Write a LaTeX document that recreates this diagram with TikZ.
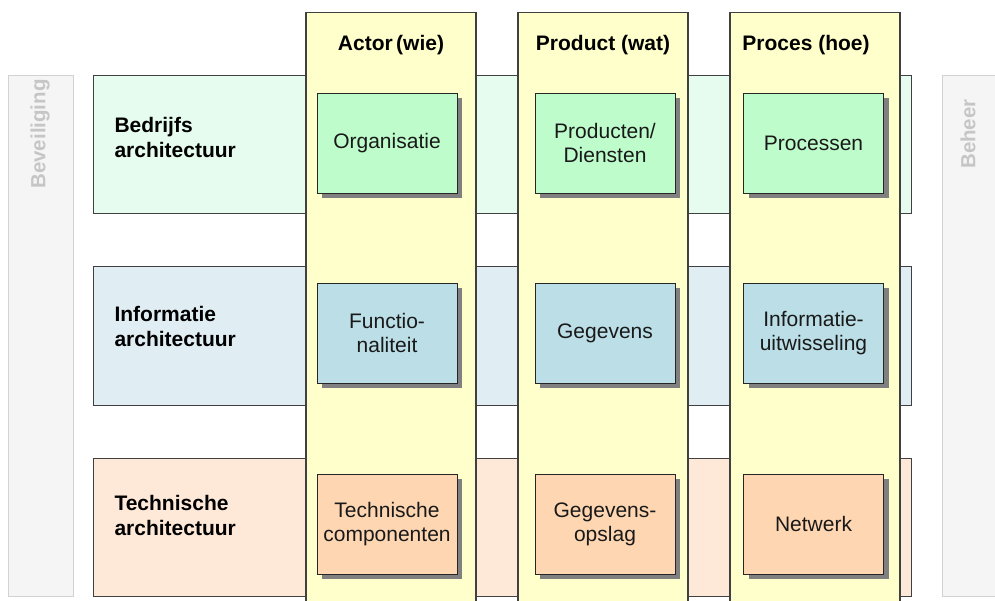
\documentclass[tikz,border=0pt]{standalone}
\usepackage{fontspec}
\setmainfont{Liberation Sans}
\usetikzlibrary{shadows}
\definecolor{bordc}{HTML}{404040}
\definecolor{colY}{HTML}{FFFFCC}
\definecolor{bandG}{HTML}{E6FCEE}
\definecolor{bandB}{HTML}{E0EEF4}
\definecolor{bandO}{HTML}{FEE9D8}
\definecolor{cellG}{HTML}{BEFCCC}
\definecolor{cellB}{HTML}{BBDEE7}
\definecolor{cellO}{HTML}{FED7B2}
\definecolor{sideF}{HTML}{F5F5F5}
\definecolor{sideD}{HTML}{D2D2D2}
\definecolor{sideT}{HTML}{C6C6C6}
\begin{document}
\begin{tikzpicture}[x=1pt,y=-1pt,
  band/.style={draw=bordc, line width=1pt},
  col/.style={draw=bordc, fill=colY, line width=1.2pt},
  side/.style={draw=sideD, fill=sideF, line width=1pt},
  sidetext/.style={text=sideT, font=\bfseries\fontsize{20.5}{24}\selectfont, rotate=90},
  head/.style={font=\bfseries\fontsize{21}{24}\selectfont},
  rowlab/.style={anchor=west, align=left, font=\bfseries\fontsize{21}{25}\selectfont},
  cell/.style={draw=black!85, line width=0.8pt, minimum width=140pt, minimum height=100pt,
    align=center, font=\fontsize{21}{24}\selectfont, text=black!90, inner sep=0pt,
    drop shadow={shadow xshift=5pt, shadow yshift=-5pt, fill=black!50, opacity=1}},
]
\useasboundingbox (0,0) rectangle (995,601);
% side bars
\draw[side] (8,76) rectangle (73,596);
\draw[side] (942,76) rectangle (1010,596);
\node[sidetext] (bev) at (40,134) {Beveiliging};
\node[sidetext] (beh) at (968,134) {Beheer};
% bands
\draw[band, fill=bandG] (93,76) rectangle (911,214);
\draw[band, fill=bandB] (93,267) rectangle (911,405);
\draw[band, fill=bandO] (93,458) rectangle (911,596);
% columns
\draw[col] (306,12.5) rectangle (476,615);
\draw[col] (518,12.5) rectangle (688,615);
\draw[col] (730,12.5) rectangle (900,615);
% headers
\node[head] (h1) at (391,45) {Actor\,(wie)};
\node[head] (h2) at (603,45) {Product (wat)};
\node[head] (h3) at (806,45) {Proces (hoe)};
% row labels
\node[rowlab] (r1) at (111,137) {Bedrijfs\\architectuur};
\node[rowlab] (r2) at (111,326) {Informatie\\architectuur};
\node[rowlab] (r3) at (111,515) {Technische\\architectuur};
% cells
\node[cell, fill=cellG] (c11) at (387,143) {Organisatie};
\node[cell, fill=cellG] (c12) at (605,143) {Producten/\\Diensten};
\node[cell, fill=cellG] (c13) at (813.5,143) {Processen};
\node[cell, fill=cellB] (c21) at (387,333) {Functio-\\naliteit};
\node[cell, fill=cellB] (c22) at (605,333) {Gegevens};
\node[cell, fill=cellB] (c23) at (813.5,333) {Informatie-\\uitwisseling};
\node[cell, fill=cellO] (c31) at (387,524) {Technische\\componenten};
\node[cell, fill=cellO] (c32) at (605,524) {Gegevens-\\opslag};
\node[cell, fill=cellO] (c33) at (813.5,524) {Netwerk};
\end{tikzpicture}
\end{document}
